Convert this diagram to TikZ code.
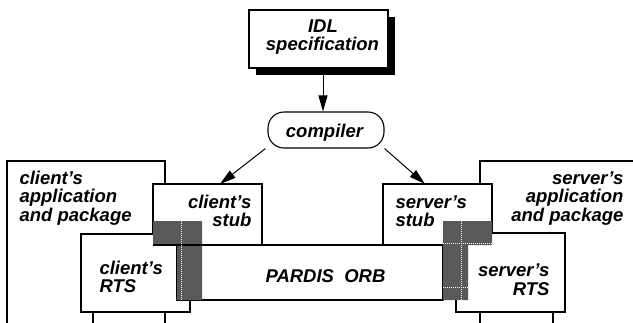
\documentclass[tikz,border=0pt]{standalone}
\usepackage{fontspec}
\setmainfont{Liberation Sans}
\usetikzlibrary{arrows.meta,shadows}
\begin{document}
\begin{tikzpicture}[x=1pt,y=-1pt,line width=1.1pt,
  txt/.style={inner sep=0pt,font=\fontsize{18.5}{18.6}\selectfont\bfseries\itshape},
  box/.style={draw=black,fill=white},
  arr/.style={-{Triangle[length=16pt,width=9pt]},line width=1pt},
  hatch/.style={fill=black!65},
  wdot/.style={draw=white,line width=1pt,dash pattern=on 1.2pt off 0.8pt}]
\useasboundingbox (0,0) rectangle (633,322);
\begin{scope}
\clip (0,0) rectangle (633,322);
% client side
\draw[box] (7,161) rectangle (165,400);
\draw[box] (153,184) rectangle (262,245);
\draw[box] (81,234) rectangle (190,312);
\draw (93,312) -- (93,330);
% server side
\draw[box] (480,161) rectangle (700,400);
\draw[box] (383,184) rectangle (492,245);
\draw[box] (456,233) rectangle (565,312);
\draw (553,312) -- (553,330);
% ORB
\draw[box] (177,245) rectangle (443,300);
% hatched interfaces
\fill[hatch] (153,221) -- (202,221) -- (202,300) -- (177,300) -- (177,245) -- (153,245) -- cycle;
\draw (153,245) -- (202,245);
\draw[wdot] (181,221) -- (181,300);
\fill[hatch] (443,221) -- (492,221) -- (492,245) -- (468,245) -- (468,300) -- (443,300) -- cycle;
\draw[wdot] (461,221) -- (461,300);
\draw[wdot] (443,243) -- (492,243);
\draw[wdot] (443,287) -- (468,287);
\end{scope}
% IDL and compiler
\node[draw,fill=white,minimum width=139pt,minimum height=58pt,inner sep=0pt,
  drop shadow={shadow xshift=7pt,shadow yshift=-7pt,opacity=1,fill=black}] (idl) at (318.5,39) {};
\node[draw,fill=white,rounded corners=16pt,minimum width=116pt,minimum height=36pt,inner sep=0pt] (comp) at (326,130) {};
\coordinate (cstubin) at (220,184);
\coordinate (sstubin) at (425,184);
\draw[arr] ([xshift=4.5pt]idl.south) -- ([xshift=-3pt]comp.north);
\draw[arr] ([xshift=-2pt]comp.south west) -- (cstubin);
\draw[arr] ([xshift=0pt]comp.south east) -- (sstubin);
% texts
\node[txt,anchor=base] (idl1) at (323,32) {IDL};
\node[txt,anchor=base] (idl2) at (322.5,50.7) {specification};
\node[txt,anchor=base] (comptxt) at (324.5,137) {compiler};
\node[txt,anchor=base west] (capp1) at (19,184) {client's};
\node[txt,anchor=base west] (capp2) at (19,202.7) {application};
\node[txt,anchor=base west] (capp3) at (19,221.3) {and package};
\node[txt,anchor=base east] (cstub1) at (252,208) {client's};
\node[txt,anchor=base east] (cstub2) at (252,226.6) {stub};
\node[txt,anchor=base west] (crts1) at (99,274) {client's};
\node[txt,anchor=base west] (crts2) at (99,292.6) {RTS};
\node[txt,anchor=base] (orb) at (325.5,282) {PARDIS~~ORB};
\node[txt,anchor=base west] (sstub1) at (395,208) {server's};
\node[txt,anchor=base west] (sstub2) at (395,226.6) {stub};
\node[txt,anchor=base east] (sapp1) at (624,184) {server's};
\node[txt,anchor=base east] (sapp2) at (624,202.7) {application};
\node[txt,anchor=base east] (sapp3) at (624,221.3) {and package};
\node[txt,anchor=base east] (srts1) at (550,276.5) {server's};
\node[txt,anchor=base east] (srts2) at (550,295) {RTS};
\end{tikzpicture}
\end{document}
